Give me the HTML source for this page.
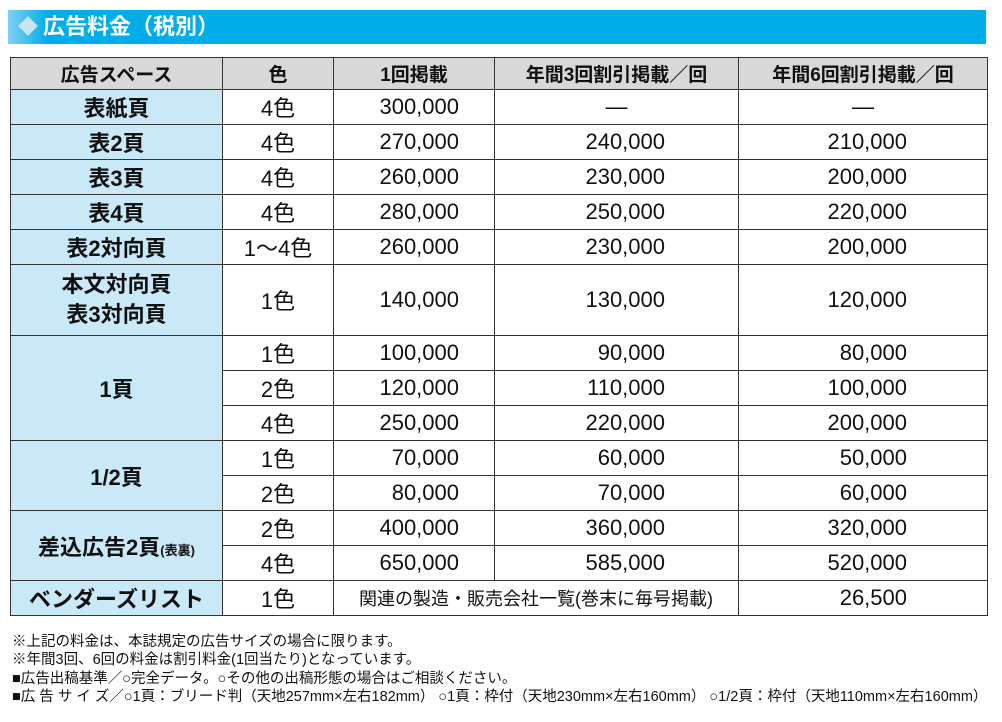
<!DOCTYPE html>
<html><head><meta charset="utf-8">
<style>
body{margin:0;width:1002px;height:722px;background:#fff;font-family:"Liberation Sans","Noto Sans CJK JP",sans-serif;position:relative;overflow:hidden;color:#111}
.title{position:absolute;left:8px;top:10px;width:978px;height:34px;background:linear-gradient(90deg,#7fd0f0 0px,#00ade9 40px,#00ade9 100%);color:#fff;font-weight:bold;font-size:22px;line-height:34px;}
.title .dia{display:inline-block;width:14px;height:14px;background:#c6e4f6;transform:rotate(45deg);margin:0 8px 0 13px;vertical-align:1px}
table{position:absolute;left:10px;top:57px;border-collapse:collapse;table-layout:fixed}
td,th{border:1.5px solid #333;padding:0;font-size:22px;height:34px;text-align:center}
th{background:#d8d8d8;font-size:19px;font-weight:bold;height:31px}
td.l{background:#c9e9f9;font-weight:bold;font-size:22px}
td.r{text-align:right}
td.c3{padding-right:35px}
td.c4{padding-right:73px}
td.c5{padding-right:80px}
.notes{position:absolute;left:12px;top:633px;font-size:14.5px;line-height:18.3px;letter-spacing:0;white-space:nowrap}
</style></head><body>
<div class="title"><span class="dia"></span>広告料金（税別）</div>
<table>
<colgroup><col style="width:212px"><col style="width:111px"><col style="width:161px"><col style="width:244px"><col style="width:249px"></colgroup>
<tr><th>広告スペース</th><th>色</th><th>1回掲載</th><th>年間3回割引掲載／回</th><th>年間6回割引掲載／回</th></tr>
<tr><td class="l">表紙頁</td><td>4色</td><td class="r c3">300,000</td><td>—</td><td>—</td></tr>
<tr><td class="l">表2頁</td><td>4色</td><td class="r c3">270,000</td><td class="r c4">240,000</td><td class="r c5">210,000</td></tr>
<tr><td class="l">表3頁</td><td>4色</td><td class="r c3">260,000</td><td class="r c4">230,000</td><td class="r c5">200,000</td></tr>
<tr><td class="l">表4頁</td><td>4色</td><td class="r c3">280,000</td><td class="r c4">250,000</td><td class="r c5">220,000</td></tr>
<tr><td class="l">表2対向頁</td><td>1～4色</td><td class="r c3">260,000</td><td class="r c4">230,000</td><td class="r c5">200,000</td></tr>
<tr><td class="l" style="height:70px;line-height:30px">本文対向頁<br>表3対向頁</td><td>1色</td><td class="r c3">140,000</td><td class="r c4">130,000</td><td class="r c5">120,000</td></tr>
<tr><td class="l" rowspan="3">1頁</td><td>1色</td><td class="r c3">100,000</td><td class="r c4">90,000</td><td class="r c5">80,000</td></tr>
<tr><td>2色</td><td class="r c3">120,000</td><td class="r c4">110,000</td><td class="r c5">100,000</td></tr>
<tr><td>4色</td><td class="r c3">250,000</td><td class="r c4">220,000</td><td class="r c5">200,000</td></tr>
<tr><td class="l" rowspan="2">1/2頁</td><td>1色</td><td class="r c3">70,000</td><td class="r c4">60,000</td><td class="r c5">50,000</td></tr>
<tr><td>2色</td><td class="r c3">80,000</td><td class="r c4">70,000</td><td class="r c5">60,000</td></tr>
<tr><td class="l" rowspan="2">差込広告2頁<span style="font-size:13px">(表裏)</span></td><td>2色</td><td class="r c3">400,000</td><td class="r c4">360,000</td><td class="r c5">320,000</td></tr>
<tr><td>4色</td><td class="r c3">650,000</td><td class="r c4">585,000</td><td class="r c5">520,000</td></tr>
<tr><td class="l">ベンダーズリスト</td><td>1色</td><td colspan="2" style="font-size:18px">関連の製造・販売会社一覧(巻末に毎号掲載)</td><td class="r c5">26,500</td></tr>
</table>
<div class="notes">
※上記の料金は、本誌規定の広告サイズの場合に限ります。<br>
※年間3回、6回の料金は割引料金(1回当たり)となっています。<br>
■広告出稿基準／○完全データ。○その他の出稿形態の場合はご相談ください。<br>
■広 告 サ イ ズ／○1頁：ブリード判（天地257mm×左右182mm） ○1頁：枠付（天地230mm×左右160mm） ○1/2頁：枠付（天地110mm×左右160mm）
</div>
</body></html>
